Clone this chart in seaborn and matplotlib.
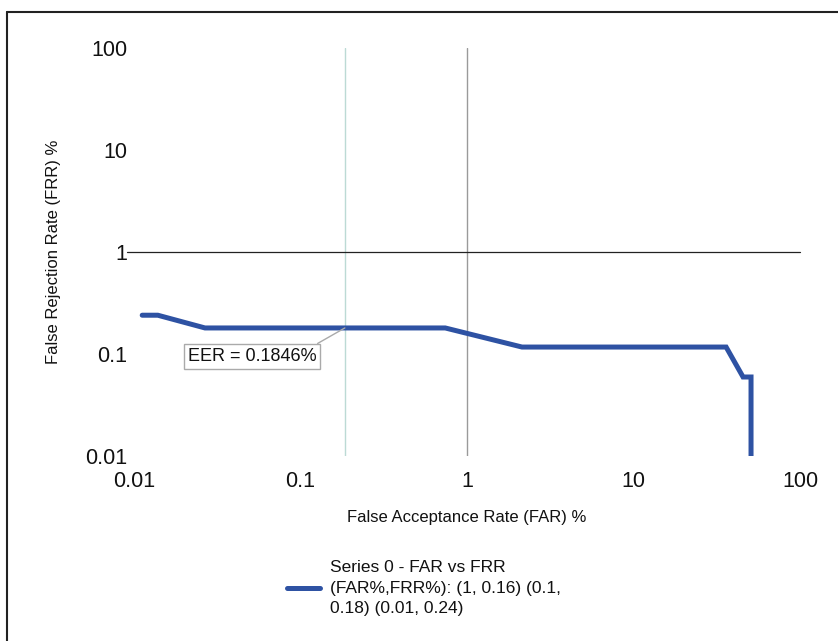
import matplotlib
matplotlib.use("Agg")
import matplotlib.pyplot as plt
import matplotlib.lines as mlines
import seaborn as sns
import pandas as pd
import numpy as np

sns.set_style("white")
plt.rcParams['font.family'] = ['Liberation Sans', 'DejaVu Sans']

# Data
far = [0.0112, 0.0139, 0.0267, 0.74, 2.14, 36.0, 45.5, 50.8, 50.8]
frr = [0.24, 0.24, 0.18, 0.18, 0.117, 0.117, 0.0595, 0.0595, 0.01]
eer = 0.1846
tick_vals = [0.01, 0.1, 1, 10, 100]
tick_labels = ["0.01", "0.1", "1", "10", "100"]
series_label = "Series 0 - FAR vs FRR\n(FAR%,FRR%): (1, 0.16) (0.1,\n0.18) (0.01, 0.24)"

df = pd.DataFrame({"FAR": far, "FRR": frr, "order": range(len(far))})

fig = plt.figure(figsize=(8.38, 6.41), dpi=100)
ax = fig.add_axes([134/838, 1-456/641, (800-134)/838, (456-48)/641])

ax.set_xscale("log")
ax.set_yscale("log")
ax.set_xlim(0.01, 100)
ax.set_ylim(0.01, 100)

# reference lines
ax.axvline(eer, color="#bcdad5", lw=1.0, zorder=1)
ax.axvline(1, color="#9a9a9a", lw=1.0, zorder=1)
ax.axhline(1, xmin=-0.01, color="#222222", lw=0.9, zorder=1, clip_on=False)

sns.lineplot(data=df, x="FAR", y="FRR", sort=False, estimator=None,
             color="#2e52a3", lw=3.6, ax=ax, zorder=3, legend=False,
             solid_joinstyle="miter")

ax.set_xticks(tick_vals)
ax.set_xticklabels(tick_labels)
ax.set_yticks(tick_vals)
ax.set_yticklabels(tick_labels)
ax.minorticks_off()
ax.tick_params(axis="both", length=0, labelsize=15.5, colors="#111111")
ax.tick_params(axis="x", pad=11)
ax.tick_params(axis="y", pad=5)
for s in ax.spines.values():
    s.set_visible(False)

ax.set_xlabel("False Acceptance Rate (FAR) %", fontsize=12, labelpad=13, color="#111111")
ax.set_ylabel("False Rejection Rate (FRR) %", fontsize=12, labelpad=17, color="#111111")

# EER callout
ax.annotate(f"EER = {eer}%", xy=(eer, 0.18), xycoords="data",
            xytext=(0.177, 0.244), textcoords="axes fraction",
            ha="center", va="center", fontsize=13, color="#111111",
            bbox=dict(boxstyle="square,pad=0.22", fc="white", ec="#aaaaaa", lw=1.0),
            arrowprops=dict(arrowstyle="-", color="#aaaaaa", lw=1.0,
                            relpos=(0.95, 1.0), shrinkA=0, shrinkB=0),
            zorder=4)

# legend
handle = mlines.Line2D([], [], color="#2e52a3", lw=3.6)
leg = fig.legend([handle], [series_label], loc="center left",
                 bbox_to_anchor=(271/838, 1-588/641), frameon=False,
                 fontsize=12.5, handlelength=1.9, handletextpad=0.6,
                 labelcolor="#111111")
for t in leg.get_texts():
    t.set_linespacing(1.5)

# figure border (top and left)
fig.add_artist(mlines.Line2D([7/838, 1.0], [1-12/641, 1-12/641],
                             transform=fig.transFigure, color="#222222", lw=1.5))
fig.add_artist(mlines.Line2D([7/838, 7/838], [0, 1-12/641],
                             transform=fig.transFigure, color="#222222", lw=1.5))

fig.savefig("out.png", dpi=100)
